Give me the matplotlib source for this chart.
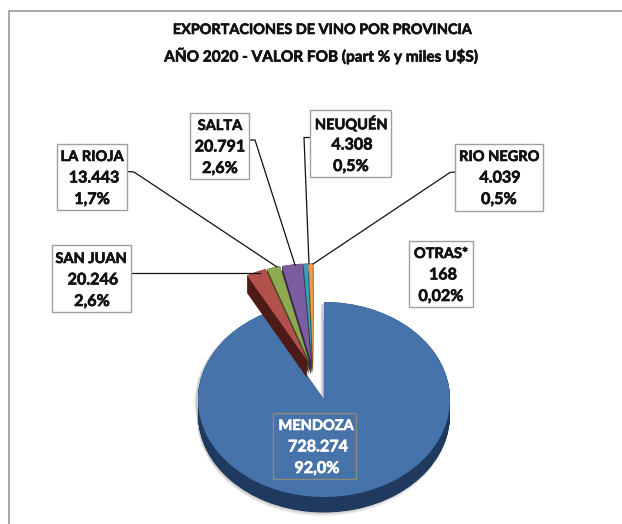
import matplotlib
matplotlib.use('Agg')
import matplotlib.pyplot as plt
import matplotlib.patheffects as pe
from matplotlib.patches import Rectangle

W, H = 622, 524

provincias = ['MENDOZA', 'SAN JUAN', 'LA RIOJA', 'SALTA', 'NEUQUÉN', 'RIO NEGRO', 'OTRAS*']
valores = [728274, 20246, 13443, 20791, 4308, 4039, 168]
valores_txt = ['728.274', '20.246', '13.443', '20.791', '4.308', '4.039', '168']
part_txt = ['92,0%', '2,6%', '1,7%', '2,6%', '0,5%', '0,5%', '0,02%']
titulo = ['EXPORTACIONES DE VINO POR PROVINCIA', 'AÑO 2020 - VALOR FOB (part % y miles U$S)']

colores = ['#4673A9', '#B2504C', '#8DAA50', '#7B5DA0', '#3E9DB6', '#F0994A', '#F4C7A0']
oscuros = ['#1F3A5E', '#4E1A18', '#3E5022', '#362750', '#1B4C5A', '#8A5020', '#A08060']

# pie geometry in pixels
cx, cy, rx, ry = 324, 399.5, 126, 97.5
cx2, cy2 = 311, 361
depth = [16, 18, 14, 14, 14, 14, 14]

# left, right, top, bottom of label boxes
cajas = {
    'MENDOZA': (273, 356, 413, 479),
    'SAN JUAN': (52, 131, 245, 312),
    'LA RIOJA': (57, 127, 144, 210),
    'SALTA': (190, 249, 113, 179),
    'NEUQUÉN': (310, 391, 110, 177),
    'RIO NEGRO': (455, 543, 144, 211),
    'OTRAS*': (409, 473, 241, 307),
}
# leader lines
guias = {
    'SAN JUAN': [(131, 273), (260, 273)],
    'LA RIOJA': [(127, 171.5), (134, 172), (277, 267)],
    'SALTA': [(249, 140), (255, 140), (295, 265)],
    'NEUQUÉN': [(310, 137.5), (304, 137.5), (309, 264)],
    'RIO NEGRO': [(455, 172), (450, 172.5), (313, 264)],
}
# centre x of the three text lines, and y of first line
textos = {
    'MENDOZA': (316, 318, 317, 426),
    'SAN JUAN': (91, 93, 92, 259),
    'LA RIOJA': (92, 94, 92, 157),
    'SALTA': (220, 220, 220, 126),
    'NEUQUÉN': (351, 352, 351, 124),
    'RIO NEGRO': (499, 500, 499, 157),
    'OTRAS*': (441, 443, 441, 254),
}

plt.rcParams['font.family'] = ['Lato', 'DejaVu Sans']
fig = plt.figure(figsize=(W / 100, H / 100), dpi=100, facecolor='white')

ax = fig.add_axes([0, 0, 1, 1])


def capa(i, x, y, color, alpha=1.0):
    # one slice of the pie at pixel position x, y, other slices hidden
    cuñas, _ = ax.pie(valores, colors=[color] * len(valores), startangle=90, counterclock=False,
                      center=((x - cx) / rx, (cy - y) / ry), radius=1.0)
    for j, c in enumerate(cuñas):
        c.set_visible(j == i)
        c.set_alpha(alpha)
        c.set_linewidth(0)


# soft shadow and side of the big slice
for k in range(4):
    capa(0, cx - 1, cy + depth[0] + k, '#808080', 0.12)
    capa(0, cx - 2 - k * 0.5, cy + 2, '#808080', 0.12)
for k in range(depth[0] * 2):
    capa(0, cx, cy + k * 0.5, oscuros[0])
capa(0, cx, cy, colores[0])

# small slices, right to left so that the gaps show the sides
huecos = [0, -3.5, -2, 0, 1, 2, 3]
for i in [6, 5, 4, 3, 2, 1]:
    px = cx2 + huecos[i]
    for k in range(depth[i] * 2):
        capa(i, px, cy2 + k * 0.5, oscuros[i])
    capa(i, px, cy2, colores[i])

ax.set_aspect('auto')
ax.set_xlim(-cx / rx, (W - cx) / rx)
ax.set_ylim((cy - H) / ry, cy / ry)
ax.axis('off')

# overlay in pixel coordinates for frame, boxes and texts
ov = fig.add_axes([0, 0, 1, 1])
ov.set_xlim(0, W)
ov.set_ylim(H, 0)
ov.axis('off')
ov.patch.set_alpha(0)

ov.plot([9, 9, W], [H, 10.5, 10.5], color='#999999', lw=1.2)


def grueso(color):
    return [pe.withStroke(linewidth=0.45, foreground=color)]


ov.text(321, 30, titulo[0], ha='center', va='center', fontsize=10.4, fontweight='bold',
        color='#111111', path_effects=grueso('#111111'))
ov.text(321.5, 56, titulo[1], ha='center', va='center', fontsize=11.05, fontweight='bold',
        color='#111111', path_effects=grueso('#111111'))

for nombre, puntos in guias.items():
    ov.plot([p[0] for p in puntos], [p[1] for p in puntos], color='#111111', lw=0.9)

for i, nombre in enumerate(provincias):
    l, r, t, b = cajas[nombre]
    blanco = nombre == 'MENDOZA'
    ov.add_patch(Rectangle((l, t), r - l, b - t, facecolor='none' if blanco else 'white',
                           edgecolor='#8C8C7C' if blanco else '#A0A0A0', lw=1.0, zorder=3))
    x1, x2, x3, y = textos[nombre]
    color = 'white' if blanco else '#111111'
    for x, yy, s, fs in [(x1, y, nombre, 10.5), (x2, y + 21.5, valores_txt[i], 11.6), (x3, y + 43, part_txt[i], 11.6)]:
        ov.text(x, yy, s, ha='center', va='center', fontsize=fs, fontweight='bold', color=color,
                zorder=4, path_effects=grueso(color))

fig.savefig('out.png', dpi=100)
